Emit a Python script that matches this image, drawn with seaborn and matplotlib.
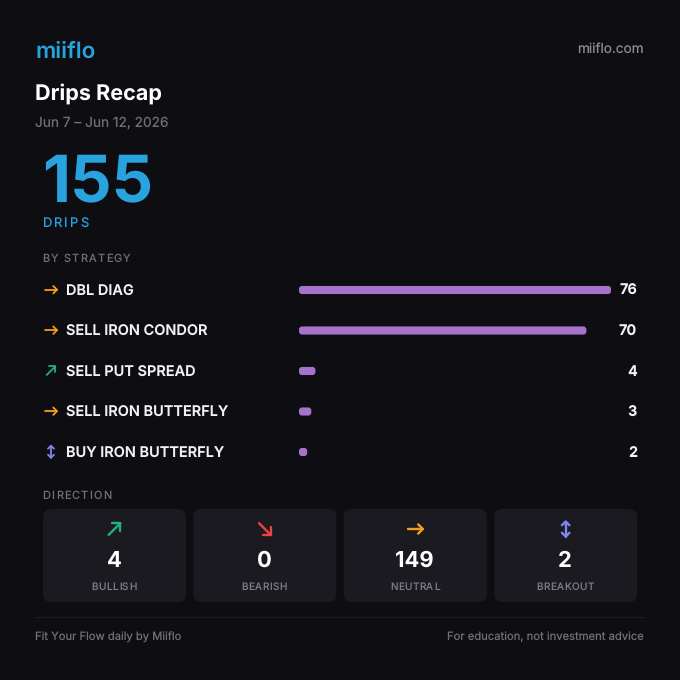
import matplotlib
matplotlib.use("Agg")
import matplotlib.pyplot as plt
from matplotlib.font_manager import FontProperties
from matplotlib.patches import FancyBboxPatch
import pandas as pd
import seaborn as sns

strategies = ["DBL DIAG", "SELL IRON CONDOR", "SELL PUT SPREAD", "SELL IRON BUTTERFLY", "BUY IRON BUTTERFLY"]
strategy_counts = [76, 70, 4, 3, 2]
strategy_icons = ["neutral", "neutral", "bullish", "neutral", "breakout"]

directions = ["BULLISH", "BEARISH", "NEUTRAL", "BREAKOUT"]
direction_counts = [4, 0, 149, 2]
direction_icons = ["bullish", "bearish", "neutral", "breakout"]

BG = "#0d0d12"
CARD = "#1a1a20"
BLUE = "#29a3dd"
PURPLE = "#a673cc"
GREY = "#6f6f78"
ICON_COLORS = {"bullish": "#22b07d", "bearish": "#ef4444", "neutral": "#f59e1b", "breakout": "#7f86f0"}

sns.set_theme(style="dark")
plt.rcParams["font.family"] = ["Inter", "DejaVu Sans"]
plt.rcParams["text.hinting"] = "no_hinting"
plt.rcParams["text.hinting_factor"] = 1

fig = plt.figure(figsize=(6.8, 6.8), dpi=100, facecolor=BG)

# fond en pixels, y vers le bas comme la maquette
bg = fig.add_axes([0, 0, 1, 1], facecolor=BG)
bg.set_xlim(0, 680)
bg.set_ylim(680, 0)
bg.axis("off")


def px(size):
    return size * 72 / 100


def label(x, y, s, size, color="white", weight="normal", ha="left"):
    bg.text(x, y, s, fontsize=px(size), color=color, fontweight=weight, ha=ha, va="center_baseline")


def spaced(x, y, s, size, color, gap, ha="left"):
    # pas de letter-spacing dans matplotlib, on place lettre par lettre
    fp = FontProperties(family="Inter", size=px(size))
    rend = fig.canvas.get_renderer()
    adv = [rend.get_text_width_height_descent(s[:i], fp, False)[0] if i else 0 for i in range(len(s) + 1)]
    total = adv[-1] + gap * (len(s) - 1)
    x0 = x - total / 2 if ha == "center" else x
    for i, ch in enumerate(s):
        bg.text(x0 + adv[i] + gap * i, y, ch, fontproperties=fp, color=color, ha="left", va="center_baseline")


def icon(kind, cx, cy, r, lw):
    color = ICON_COLORS[kind]
    h = r * 0.62
    if kind == "neutral":
        lines = [[(cx - r, cy), (cx + r, cy)], [(cx + r - h, cy - h), (cx + r, cy), (cx + r - h, cy + h)]]
    elif kind == "bullish":
        d = r * 0.78
        lines = [[(cx - d, cy + d), (cx + d, cy - d)], [(cx - d * 0.4, cy - d), (cx + d, cy - d), (cx + d, cy + d * 0.4)]]
    elif kind == "bearish":
        d = r * 0.78
        lines = [[(cx - d, cy - d), (cx + d, cy + d)], [(cx + d, cy - d * 0.4), (cx + d, cy + d), (cx - d * 0.4, cy + d)]]
    else:
        w = r * 0.5
        lines = [[(cx, cy - r), (cx, cy + r)], [(cx - w, cy - r + w), (cx, cy - r), (cx + w, cy - r + w)],
                 [(cx - w, cy + r - w), (cx, cy + r), (cx + w, cy + r - w)]]
    for line in lines:
        bg.plot(*zip(*line), color=color, lw=lw, solid_capstyle="round", solid_joinstyle="round")


# en-tete
label(35, 50, "miiflo", 22.5, BLUE, "semibold")
label(644, 48, "miiflo.com", 13.6, "#8c8c95", ha="right")
label(35, 91.5, "Drips Recap", 21.6, "white", "bold")
label(35, 121.5, "Jun 7 – Jun 12, 2026", 13.7, GREY)
label(42.5, 178, "155", 65, BLUE, "bold")
spaced(42.5, 222.5, "DRIPS", 13, BLUE, 2)
spaced(42.5, 258, "BY STRATEGY", 11, GREY, 1.2)

# barres par strategie
ax = fig.add_axes([299 / 680, 1 - 472.25 / 680, 312 / 680, 202.5 / 680], facecolor="none")
df = pd.DataFrame({"strategy": strategies, "count": strategy_counts})
sns.barplot(data=df, x="count", y="strategy", color=PURPLE, width=0.2, saturation=1, ax=ax)
ax.set_xlim(0, max(strategy_counts))
ax.set_xlabel("")
ax.set_ylabel("")
ax.set_xticks([])
ax.set_yticks([])
ax.grid(False)
sns.despine(ax=ax, left=True, bottom=True)
ax.patch.set_visible(False)

# coins arrondis : on remplace les rectangles
x_per_px = max(strategy_counts) / 312
y_per_px = 1 / 40.5
for bar in list(ax.patches):
    x, y, w, h = bar.get_x(), bar.get_y(), bar.get_width(), bar.get_height()
    bar.remove()
    ax.add_patch(FancyBboxPatch((x, y), w, h, boxstyle=f"round,pad=0,rounding_size={3 * x_per_px}",
                                mutation_aspect=y_per_px / x_per_px, fc=PURPLE, ec="none", clip_on=False))

for i, (name, n, kind) in enumerate(zip(strategies, strategy_counts, strategy_icons)):
    y = 290 + 40.5 * i
    icon(kind, 51, y - 0.3, 6 if kind != "bullish" else 5.5, 1.3)
    label(66, y + 0.3, name, 14.5, "#f2f2f4", "semibold")
    label(637, y - 0.2, str(n), 14.5, "#f2f2f4", "bold", ha="right")

# cartes direction
spaced(42.5, 495, "DIRECTION", 11, GREY, 1.2)
for i, (name, n, kind) in enumerate(zip(directions, direction_counts, direction_icons)):
    left = 43 + 150.4 * i
    bg.add_patch(FancyBboxPatch((left + 8, 517), 143 - 16, 77, boxstyle="round,pad=8,rounding_size=8",
                                fc=CARD, ec="none"))
    cx = left + 71.5
    icon(kind, cx, 529, 7.5, 1.7)
    label(cx - 0.5, 559, str(n), 22, "white", "bold", ha="center")
    spaced(cx - 0.5, 586, name, 10, "#7e7e87", 0.5, ha="center")

# pied de page
bg.plot([35, 644], [617, 617], color="#1c1c23", lw=1)
label(35, 636, "Fit Your Flow daily by Miiflo", 11.2, GREY)
label(644, 636, "For education, not investment advice", 11.25, GREY, ha="right")

fig.savefig("out.png", dpi=100, facecolor=BG)
